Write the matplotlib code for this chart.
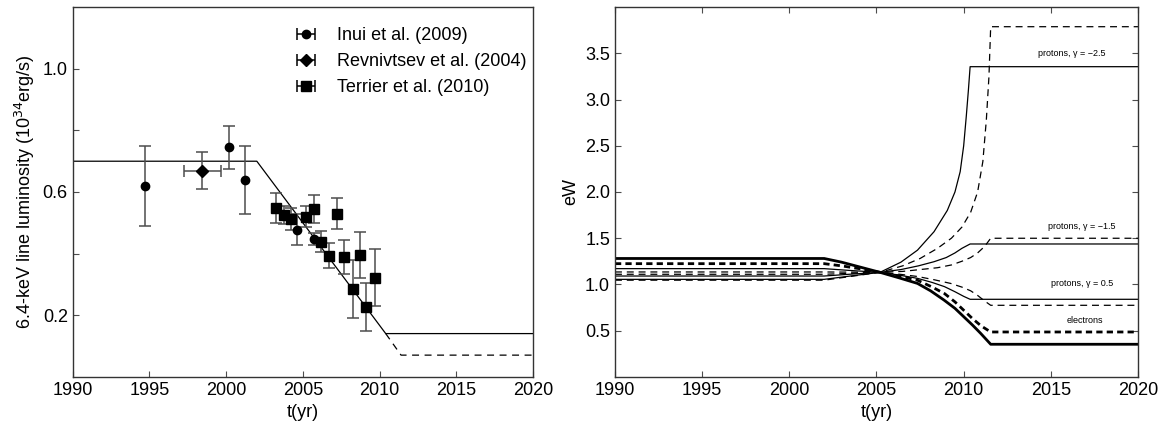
import numpy as np
import matplotlib
matplotlib.use("Agg")
import matplotlib.pyplot as plt

plt.rcParams['font.family'] = ['Liberation Sans', 'DejaVu Sans']
plt.rcParams['lines.scale_dashes'] = False

# ---- left panel data: 6.4 keV line luminosity (1e34 erg/s)
inui_t = [1994.7, 2000.2, 2001.2, 2004.6, 2005.7]
inui_L = [0.62, 0.745, 0.64, 0.478, 0.448]
inui_err = [0.13, 0.07, 0.11, 0.05, 0.02]

rev_t = [1998.45]
rev_L = [0.669]
rev_terr = [1.2]
rev_err = [0.06]

terrier_t = [2003.25, 2003.74, 2004.22, 2005.2, 2005.7, 2006.2, 2006.7,
             2007.22, 2007.68, 2008.24, 2008.72, 2009.13, 2009.72]
terrier_L = [0.548, 0.526, 0.512, 0.52, 0.544, 0.439, 0.393,
             0.529, 0.39, 0.285, 0.395, 0.227, 0.322]
terrier_err = [0.048, 0.03, 0.035, 0.035, 0.045, 0.033, 0.04,
               0.05, 0.055, 0.095, 0.075, 0.077, 0.092]

model_t = [1990, 2002.0, 2010.4, 2020]
model_L = [0.70, 0.70, 0.14, 0.14]
model2_t = [2010.4, 2011.4, 2020]
model2_L = [0.14, 0.07, 0.07]

# ---- right panel data: eW curves (solid / dashed)
el_s_t = [1990, 2002, 2003, 2004, 2005.2, 2006.3, 2007.35, 2008.1, 2008.87,
          2009.5, 2010.0, 2010.5, 2010.97, 2011.55, 2020]
el_s_v = [1.28, 1.28, 1.24, 1.19, 1.13, 1.07, 1.01, 0.93, 0.83,
          0.74, 0.65, 0.56, 0.47, 0.351, 0.351]
el_d_t = [1990, 2002, 2003, 2004, 2005.2, 2006.3, 2007.35, 2008.2, 2008.9,
          2009.5, 2010.0, 2010.5, 2011.0, 2011.55, 2020]
el_d_v = [1.224, 1.224, 1.20, 1.17, 1.13, 1.09, 1.045, 0.97, 0.90,
          0.81, 0.72, 0.63, 0.55, 0.484, 0.484]

p05_s_t = [1990, 2002, 2003.5, 2005.2, 2006.3, 2007.35, 2008.2, 2008.9,
           2009.5, 2010.0, 2010.37, 2020]
p05_s_v = [1.17, 1.17, 1.15, 1.13, 1.10, 1.065, 1.02, 0.975,
           0.92, 0.87, 0.838, 0.838]
p05_d_t = [1990, 2002, 2005.2, 2006.3, 2007.35, 2008.3, 2009.25, 2009.9,
           2010.4, 2010.8, 2011.2, 2011.55, 2020]
p05_d_v = [1.134, 1.134, 1.13, 1.11, 1.085, 1.05, 1.01, 0.97,
           0.93, 0.88, 0.82, 0.773, 0.773]

p15_s_t = [1990, 2002, 2003.5, 2005.2, 2006.4, 2007.4, 2008.3, 2009.0,
           2009.5, 2009.9, 2010.37, 2020]
p15_s_v = [1.09, 1.09, 1.11, 1.13, 1.16, 1.20, 1.245, 1.29,
           1.34, 1.39, 1.437, 1.437]
p15_d_t = [1990, 2002, 2005.2, 2006.5, 2007.5, 2008.5, 2009.3, 2009.9,
           2010.4, 2010.8, 2011.2, 2011.55, 2020]
p15_d_v = [1.109, 1.109, 1.13, 1.14, 1.16, 1.18, 1.21, 1.25,
           1.29, 1.34, 1.41, 1.499, 1.499]

p25_s_t = [1990, 2002, 2003.5, 2005.2, 2006.4, 2007.35, 2008.3, 2009.06,
           2009.5, 2009.8, 2010.0, 2010.15, 2010.27, 2010.37, 2020]
p25_s_v = [1.054, 1.054, 1.09, 1.13, 1.24, 1.37, 1.57, 1.80,
           2.00, 2.22, 2.50, 2.82, 3.10, 3.357, 3.357]
p25_d_t = [1990, 2002, 2003.5, 2005.2, 2006.5, 2007.5, 2008.5, 2009.3,
           2009.9, 2010.4, 2010.8, 2011.1, 2011.3, 2011.45, 2011.55, 2020]
p25_d_v = [1.045, 1.045, 1.085, 1.13, 1.20, 1.28, 1.39, 1.50,
           1.62, 1.78, 2.00, 2.33, 2.78, 3.25, 3.79, 3.79]

labels_right = ['protons, γ = −2.5', 'protons, γ = −1.5', 'protons, γ = 0.5', 'electrons']
labels_t = [2016.2, 2016.8, 2016.8, 2016.95]
labels_v = [3.505, 1.624, 1.004, 0.607]

fig = plt.figure(figsize=(11.61, 4.30), dpi=100)
ax1 = fig.add_axes([0.0626, 0.124, 0.3965, 0.859])
ax2 = fig.add_axes([0.5297, 0.124, 0.4505, 0.859])

# ---------- left
ecol = '0.3'
ax1.plot(model_t, model_L, color='k', lw=0.9)
ax1.plot(model2_t, model2_L, color='k', lw=0.9, dashes=(5, 4))
ax1.errorbar(inui_t, inui_L, yerr=inui_err, fmt='o', color='k', ms=6,
             ecolor=ecol, elinewidth=1.1, capsize=4, capthick=1.1, zorder=3)
ax1.errorbar(rev_t, rev_L, xerr=rev_terr, yerr=rev_err, fmt='D', color='k', ms=6,
             ecolor=ecol, elinewidth=1.1, capsize=4, capthick=1.1, zorder=3)
ax1.errorbar(terrier_t, terrier_L, yerr=terrier_err, fmt='s', color='k', ms=6.5,
             ecolor=ecol, elinewidth=1.1, capsize=4, capthick=1.1, zorder=3)

# legend proxies with horizontal bars
h1 = ax1.errorbar([np.nan], [np.nan], xerr=[1], fmt='o', color='k', ms=6,
                  elinewidth=1.1, capsize=4, capthick=1.1)
h2 = ax1.errorbar([np.nan], [np.nan], xerr=[1], fmt='D', color='k', ms=6,
                  elinewidth=1.1, capsize=4, capthick=1.1)
h3 = ax1.errorbar([np.nan], [np.nan], xerr=[1], fmt='s', color='k', ms=6.5,
                  elinewidth=1.1, capsize=4, capthick=1.1)
ax1.legend([h1, h2, h3], ['Inui et al. (2009)', 'Revnivtsev et al. (2004)', 'Terrier et al. (2010)'],
           loc='upper left', bbox_to_anchor=(0.428, 0.99), frameon=False, fontsize=13,
           handlelength=2.2, handletextpad=0.6, labelspacing=0.5, numpoints=1)

ax1.set_xlim(1990, 2020)
ax1.set_ylim(0, 1.2)
ax1.set_xticks(np.arange(1990, 2021, 5))
ax1.set_yticks([0.2, 0.4, 0.6, 0.8, 1.0])
ax1.set_yticklabels(['0.2', '', '0.6', '', '1.0'])
ax1.set_xlabel('t(yr)', fontsize=13)
ax1.set_ylabel('6.4-keV line luminosity (10$^{34}$erg/s)', fontsize=13)

# ---------- right
thin = 0.9
thick = 2.0
ax2.plot(el_s_t, el_s_v, color='k', lw=thick)
ax2.plot(el_d_t, el_d_v, color='k', lw=thick, dashes=(4.5, 3))
ax2.plot(p05_s_t, p05_s_v, color='k', lw=thin)
ax2.plot(p05_d_t, p05_d_v, color='k', lw=thin, dashes=(5, 3.5))
ax2.plot(p15_s_t, p15_s_v, color='k', lw=thin)
ax2.plot(p15_d_t, p15_d_v, color='k', lw=thin, dashes=(5, 3.5))
ax2.plot(p25_s_t, p25_s_v, color='k', lw=thin)
ax2.plot(p25_d_t, p25_d_v, color='k', lw=thin, dashes=(5, 3.5))
for s, tx, v in zip(labels_right, labels_t, labels_v):
    ax2.text(tx, v, s, fontsize=6.5, ha='center', va='center')

ax2.set_xlim(1990, 2020)
ax2.set_ylim(0, 4)
ax2.set_xticks(np.arange(1990, 2021, 5))
ax2.set_yticks(np.arange(0.5, 3.6, 0.5))
ax2.set_xlabel('t(yr)', fontsize=13)
ax2.set_ylabel('eW', fontsize=13)

for ax in (ax1, ax2):
    ax.tick_params(direction='in', length=4, width=0.8, labelsize=13, color='0.3')
    for sp in ax.spines.values():
        sp.set_linewidth(1.0)
        sp.set_color('0.2')
ax2.tick_params(top=True, right=True)

fig.savefig('out.png', dpi=100)
